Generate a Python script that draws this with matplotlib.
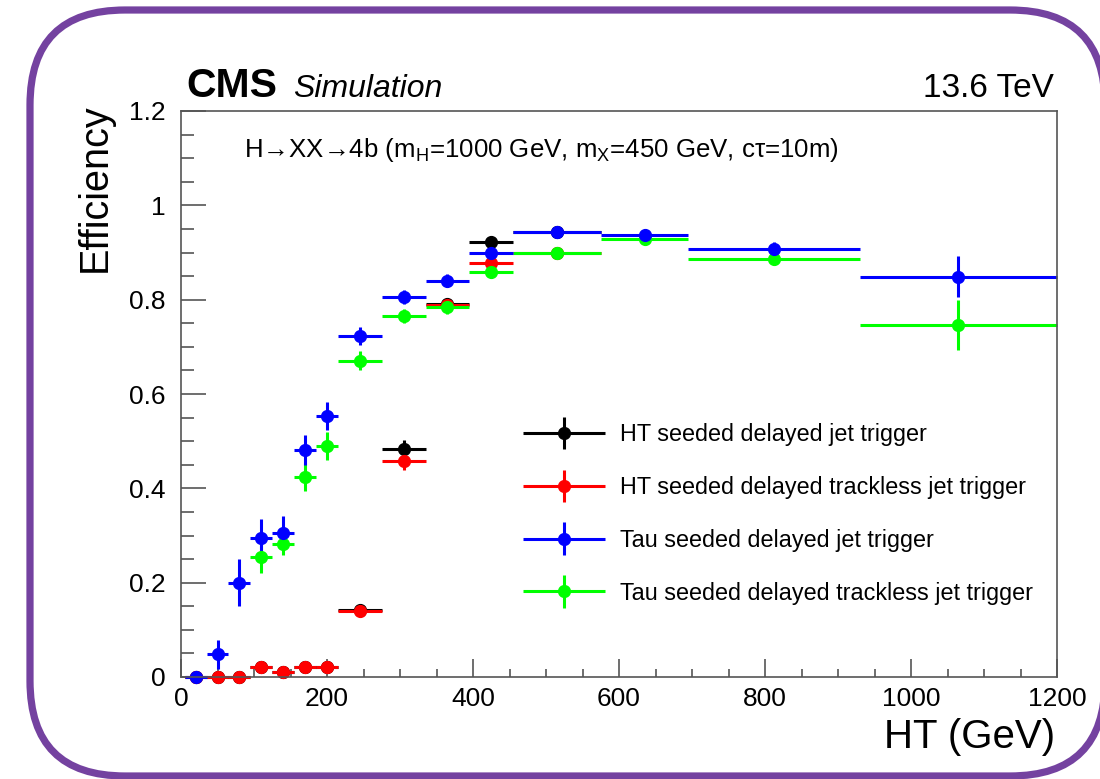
import numpy as np
import matplotlib
matplotlib.use("Agg")
import matplotlib.pyplot as plt
from matplotlib.patches import FancyBboxPatch
from matplotlib.ticker import MultipleLocator
from matplotlib.legend_handler import HandlerErrorbar
from matplotlib.container import ErrorbarContainer

plt.rcParams['font.family'] = ['Liberation Sans', 'DejaVu Sans']
plt.rcParams['mathtext.fontset'] = 'custom'
plt.rcParams['mathtext.rm'] = 'Liberation Sans'
plt.rcParams['mathtext.it'] = 'Liberation Sans:italic'

# HT binning (GeV)
ht_edges = [5, 35, 65, 95, 125, 155, 185, 215, 275, 335, 395, 455, 575, 695, 930, 1200]

nan = np.nan
# HT seeded delayed jet trigger
eff_ht_jet = [0.0, 0.0, 0.0, 0.022, 0.011, 0.022, 0.022, 0.143, 0.483, 0.790, 0.923, 0.944, nan, nan, nan]
err_ht_jet = [0.004, 0.004, 0.004, 0.008, 0.006, 0.007, 0.007, 0.010, 0.020, 0.012, 0.012, 0.008, nan, nan, nan]
# HT seeded delayed trackless jet trigger
eff_ht_trk = [0.0, 0.0, 0.0, 0.022, 0.011, 0.022, 0.022, 0.139, 0.459, 0.788, 0.877, 0.899, nan, nan, nan]
err_ht_trk = [0.004, 0.004, 0.004, 0.008, 0.006, 0.007, 0.007, 0.010, 0.020, 0.012, 0.012, 0.008, nan, nan, nan]
# Tau seeded delayed jet trigger
eff_tau_jet = [0.0, 0.048, 0.200, 0.294, 0.306, 0.481, 0.553, 0.723, 0.806, 0.840, 0.898, 0.944, 0.938, 0.907, 0.849]
err_tau_jet = [0.005, 0.030, 0.050, 0.042, 0.036, 0.032, 0.030, 0.019, 0.015, 0.014, 0.012, 0.008, 0.010, 0.016, 0.044]
# Tau seeded delayed trackless jet trigger
eff_tau_trk = [nan, nan, nan, 0.255, 0.283, 0.423, 0.490, 0.671, 0.765, 0.784, 0.859, 0.899, 0.929, 0.886, 0.746]
err_tau_trk = [nan, nan, nan, 0.035, 0.025, 0.028, 0.030, 0.020, 0.015, 0.014, 0.012, 0.008, 0.010, 0.012, 0.053]

labels = ["HT seeded delayed jet trigger",
          "HT seeded delayed trackless jet trigger",
          "Tau seeded delayed jet trigger",
          "Tau seeded delayed trackless jet trigger"]
colors = ["#000000", "#ff0000", "#0000ff", "#00ff00"]

edges = np.array(ht_edges, dtype=float)
centers = 0.5 * (edges[:-1] + edges[1:])
half_w = 0.5 * (edges[1:] - edges[:-1])

W, H = 1100, 779
fig = plt.figure(figsize=(W / 100, H / 100), dpi=100)

# rounded frame around the canvas
bg = fig.add_axes([0, 0, 1, 1])
bg.set_xlim(0, W)
bg.set_ylim(H, 0)
bg.axis('off')
bg.add_patch(FancyBboxPatch((30, 10), 1075, 766,
                            boxstyle="round,pad=0,rounding_size=95",
                            fc='white', ec='#7442a0', lw=5.2))

ax = fig.add_axes([181 / W, 1 - 677 / H, (1057 - 181) / W, (677 - 111) / H])
ax.set_xlim(0, 1200)
ax.set_ylim(0, 1.2)

series = [(eff_ht_jet, err_ht_jet, colors[0], labels[0]),
          (eff_ht_trk, err_ht_trk, colors[1], labels[1]),
          (eff_tau_trk, err_tau_trk, colors[3], labels[3]),
          (eff_tau_jet, err_tau_jet, colors[2], labels[2])]
handles = {}
for eff, err, col, lab in series:
    h = ax.errorbar(centers, eff, xerr=half_w, yerr=err, fmt='o', color=col,
                    ms=8.5, elinewidth=2.2, capsize=0, label=lab, clip_on=False)
    handles[lab] = h

for sp in ['top', 'right', 'left', 'bottom']:
    ax.spines[sp].set_color('#555555')
    ax.spines[sp].set_linewidth(1.2)

ax.xaxis.set_major_locator(MultipleLocator(200))
ax.xaxis.set_minor_locator(MultipleLocator(50))
ax.yaxis.set_major_locator(MultipleLocator(0.2))
ax.yaxis.set_minor_locator(MultipleLocator(0.05))
ax.set_yticks([0, 0.2, 0.4, 0.6, 0.8, 1.0, 1.2])
ax.set_yticklabels(['0', '0.2', '0.4', '0.6', '0.8', '1', '1.2'])
ax.tick_params(axis='both', which='both', direction='in', color='#555555',
               top=False, right=False, labelsize=19)
ax.tick_params(axis='x', which='major', length=13, width=1.2, pad=7)
ax.tick_params(axis='x', which='minor', length=6, width=1.2)
ax.tick_params(axis='y', which='major', length=18, width=1.2, pad=11)
ax.tick_params(axis='y', which='minor', length=9, width=1.2)

fig.text(1055 / W, 1 - 748 / H, "HT (GeV)", ha='right', va='baseline', fontsize=29)
fig.text(95 / W, 1 - 103 / H, "Efficiency", ha='center', va='top', rotation=90, fontsize=28.5)

fig.text(186 / W, 1 - 97 / H, "CMS", ha='left', va='baseline', fontsize=29.5, fontweight='bold')
fig.text(293 / W, 1 - 97 / H, "Simulation", ha='left', va='baseline', fontsize=23, fontstyle='italic')
fig.text(1054 / W, 1 - 97 / H, "13.6 TeV", ha='right', va='baseline', fontsize=24)

fig.text(244 / W, 1 - 157 / H,
         "H→XX→4b (m$_{\\mathregular{H}}$=1000 GeV, m$_{\\mathregular{X}}$=450 GeV, cτ=10m)",
         ha='left', va='baseline', fontsize=18.6)

order = [labels[0], labels[1], labels[2], labels[3]]
leg = ax.legend([handles[l] for l in order], order, loc='upper left',
                bbox_to_anchor=(523 / W, 1 - 423 / H), bbox_transform=fig.transFigure,
                frameon=False, fontsize=16.8, handlelength=3.51, handletextpad=0.64,
                labelspacing=1.28, borderpad=0, borderaxespad=0,
                handler_map={ErrorbarContainer: HandlerErrorbar(xerr_size=1.76, yerr_size=0.69)})

fig.savefig("out.png", dpi=100)
